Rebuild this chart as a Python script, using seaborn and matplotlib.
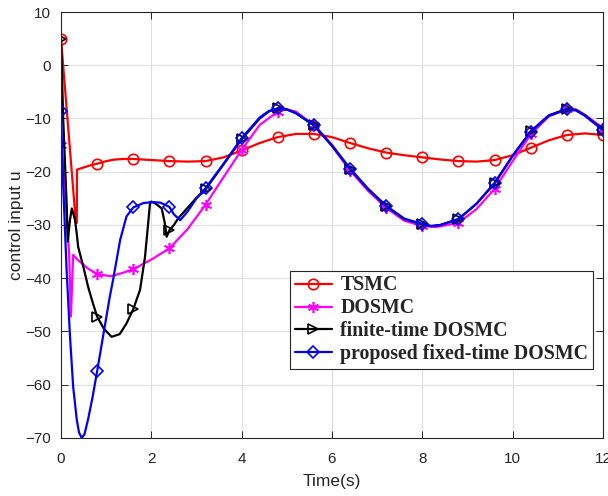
import matplotlib
matplotlib.use("Agg")
from matplotlib import pyplot as plt
import numpy as np
import seaborn as sb

# TSMC
t_tsmc = [0, 0.33, 0.35, 0.355, 0.5, 0.65, 0.8, 1.0, 1.2, 1.4, 1.6, 2.0, 2.4, 2.8, 3.2, 3.6, 4.0, 4.4,
          4.8, 5.2, 5.6, 6.0, 6.4, 6.8, 7.2, 7.6, 8.0, 8.4, 8.8, 9.2, 9.6, 10.0, 10.4, 10.8, 11.2, 11.6, 12.0]
u_tsmc = [5, -29.6, -29.6, -19.6, -19.2, -18.8, -18.5, -18.0, -17.7, -17.6, -17.6, -17.8, -18.0, -18.1,
          -18.0, -17.3, -16.0, -14.6, -13.5, -12.9, -12.9, -13.5, -14.6, -15.6, -16.4, -16.9, -17.3,
          -17.7, -18.0, -18.1, -17.8, -16.9, -15.5, -14.1, -13.1, -12.8, -13.1]

# DOSMC
t_dosmc = [0, 0.05, 0.09, 0.14, 0.18, 0.22, 0.25, 0.27, 0.35, 0.46, 0.6, 0.8, 1.0, 1.1, 1.2, 1.4, 1.6, 2.0,
           2.4, 2.8, 3.2, 3.6, 4.0, 4.4, 4.8, 5.0, 5.2, 5.6, 6.0, 6.4, 6.8, 7.2, 7.6, 8.0, 8.3, 8.8, 9.2,
           9.6, 10.0, 10.4, 10.8, 11.2, 11.4, 11.6, 12.0]
u_dosmc = [-15, -19, -24, -30, -35.3, -47.2, -40, -35.6, -36.4, -37.2, -38.2, -39.2, -39.5, -39.6, -39.4,
           -38.9, -38.3, -36.5, -34.4, -30.8, -26.2, -21.0, -15.9, -11.2, -8.7, -8.3, -8.7, -11.3, -15.2,
           -19.8, -23.6, -26.8, -29.2, -30.2, -30.4, -29.6, -27.0, -23.2, -18.0, -13.0, -9.6, -8.2, -8.3,
           -9.3, -11.8]

# finite-time DOSMC
t_finite = [0, 0.05, 0.125, 0.15, 0.2, 0.24, 0.31, 0.35, 0.38, 0.5, 0.6, 0.7, 0.8, 0.95, 1.12, 1.3, 1.45,
            1.6, 1.75, 1.86, 1.93, 1.97, 2.0, 2.1, 2.23, 2.3, 2.34, 2.4, 2.5, 2.6, 2.8, 3.0, 3.2, 3.6, 4.0,
            4.4, 4.6, 4.8, 5.0, 5.2, 5.6, 6.0, 6.4, 6.8, 7.2, 7.6, 8.0, 8.2, 8.4, 8.8, 9.2, 9.6, 10.0, 10.4,
            10.8, 11.2, 11.4, 11.6, 12.0]
u_finite = [5, -10.3, -25.9, -33.1, -29.0, -26.9, -29.0, -31.7, -34.1, -38.0, -41.6, -44.5, -47.2, -49.5,
            -51.0, -50.5, -48.5, -45.8, -42.2, -36.0, -29.7, -26.0, -25.6, -26.0, -26.9, -29.7, -32.2,
            -31.0, -30.0, -28.7, -26.8, -24.9, -23.3, -18.6, -13.9, -10.0, -8.7, -8.1, -8.3, -9.0, -11.3,
            -15.1, -19.5, -23.3, -26.5, -28.9, -29.9, -30.2, -30.0, -28.9, -26.0, -22.1, -17.0, -12.4,
            -9.4, -8.2, -8.4, -9.4, -12.1]

# proposed fixed-time DOSMC
t_fixed = [0, 0.05, 0.125, 0.2, 0.27, 0.35, 0.4, 0.46, 0.52, 0.6, 0.7, 0.8, 0.95, 1.08, 1.16, 1.31, 1.45,
           1.6, 1.82, 2.0, 2.2, 2.4, 2.5, 2.64, 2.8, 3.0, 3.2, 3.6, 4.0, 4.4, 4.6, 4.8, 5.0, 5.2, 5.6, 6.0,
           6.4, 6.8, 7.2, 7.6, 8.0, 8.2, 8.4, 8.8, 9.2, 9.6, 10.0, 10.4, 10.8, 11.2, 11.4, 11.6, 12.0]
u_fixed = [-8.5, -22.8, -38.5, -51.0, -60.4, -66.6, -69.0, -70.0, -69.3, -66.5, -62.3, -57.5, -50.0, -43.5,
           -40.0, -32.8, -28.4, -26.7, -25.9, -25.7, -25.8, -26.6, -28.0, -29.1, -27.5, -25.0, -23.1,
           -18.5, -13.7, -9.8, -8.6, -8.1, -8.3, -9.0, -11.2, -15.0, -19.4, -23.2, -26.4, -28.8, -29.8,
           -30.2, -30.0, -28.9, -26.0, -22.2, -17.0, -12.5, -9.5, -8.3, -8.5, -9.5, -12.2]

marker_step = 0.8
x_ticks = [0, 2, 4, 6, 8, 10, 12]
y_ticks = [-70, -60, -50, -40, -30, -20, -10, 0, 10]

series = [
    ("TSMC", t_tsmc, u_tsmc, "#ff0000", "o", 7.5),
    ("DOSMC", t_dosmc, u_dosmc, "#ff00ff", (6, 2, 0), 8),
    ("finite-time DOSMC", t_finite, u_finite, "#000000", ">", 7),
    ("proposed fixed-time DOSMC", t_fixed, u_fixed, "#0000ff", "D", 6),
]

sb.set_theme(style="ticks")
plt.rcParams["font.family"] = ["Liberation Sans", "DejaVu Sans"]

fig = plt.figure(figsize=(6.08, 4.96), dpi=100)
ax = fig.add_axes([0.1003, 0.117, 0.8915, 0.8588])

for name, tt, uu, col, mk, ms in series:
    tt = np.asarray(tt)
    every = [i for i, t in enumerate(tt) if abs(t / marker_step - round(t / marker_step)) < 1e-6]
    sb.lineplot(x=tt, y=uu, ax=ax, color=col, linewidth=1.6, label=name,
                marker=mk, markersize=ms, markevery=every,
                markerfacecolor="none", markeredgecolor=col, markeredgewidth=1.2)

ax.set_xlim(0, 12)
ax.set_ylim(-70, 10)
ax.set_xticks(x_ticks)
ax.set_yticks(y_ticks)
ax.grid(True, color="#dedede", linewidth=0.8)
ax.tick_params(direction="in", top=True, right=True, length=5, width=0.7,
               colors="#262626", labelsize=11)
ax.tick_params(axis="x", pad=10)
ax.tick_params(axis="y", pad=7)
for s in ax.spines.values():
    s.set_color("#262626")
    s.set_linewidth(0.8)
ax.set_xlabel("Time(s)", fontsize=12.5, color="#262626", labelpad=6)
ax.set_ylabel("control input u", fontsize=12.5, color="#262626", labelpad=1)

leg = ax.legend(loc="lower right", bbox_to_anchor=(0.982, 0.161), borderaxespad=0,
                fancybox=False, edgecolor="#262626", framealpha=1, handlelength=1.9,
                handletextpad=0.4, borderpad=0.25, labelspacing=0.15,
                prop={"family": "Liberation Serif", "weight": "bold", "size": 14.3})
leg.get_frame().set_linewidth(0.8)

fig.savefig("out.png", dpi=100)
